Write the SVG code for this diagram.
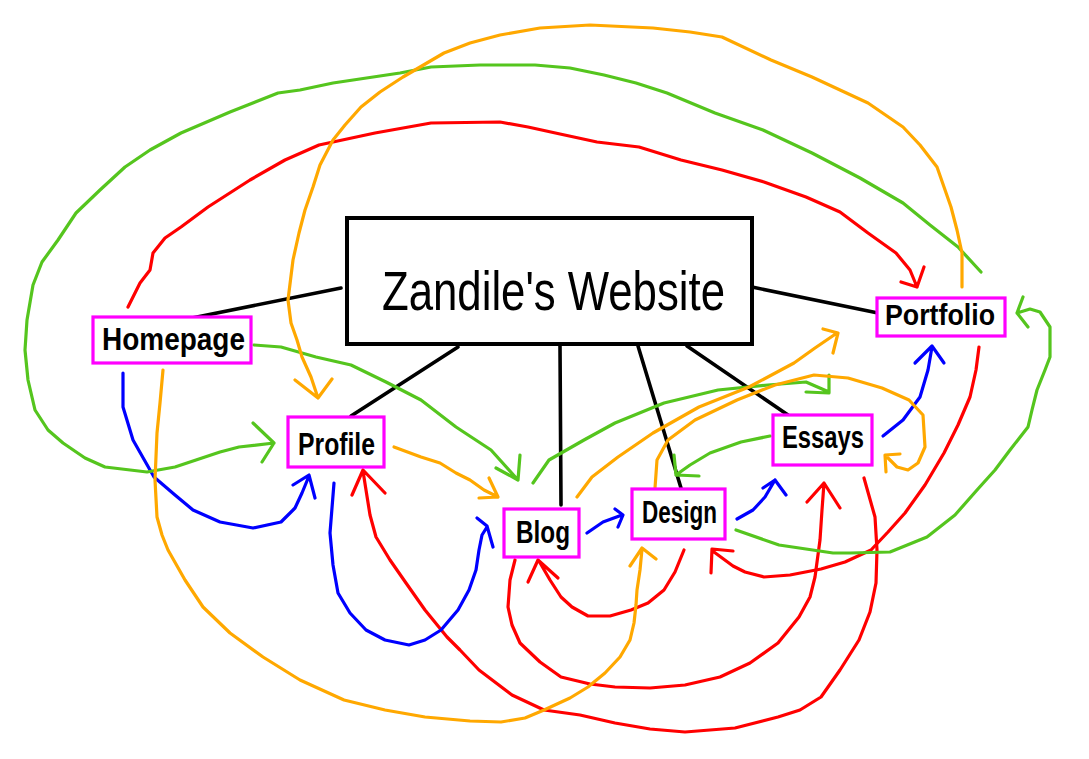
<svg xmlns="http://www.w3.org/2000/svg" width="1089" height="759" viewBox="0 0 1089 759">
<style>
.c{fill:none;stroke-width:3.2;stroke-linecap:round;stroke-linejoin:round}
.r{stroke:#FF0000}.b{stroke:#0000FF}.g{stroke:#55C51E}.o{stroke:#FFA800}
.k{fill:none;stroke:#000;stroke-width:3.6;stroke-linecap:round}
.n{fill:#fff;stroke:#FF00FF;stroke-width:3.2}
.t{font-family:"Liberation Sans",Arial,sans-serif;font-weight:bold;fill:#000;text-anchor:start}
.title{font-family:"Liberation Sans",Arial,sans-serif;fill:#000}
</style>
<rect width="1089" height="759" fill="#fff"/>
<g id="connectors">
<g id="links">
<path class="k" d="M192,318 L341,288"/>
<path class="k" d="M351,416 L458,347"/>
<path class="k" d="M560,346 L561,505"/>
<path class="k" d="M638,346 L681,488"/>
<path class="k" d="M687,346 L788,415"/>
<path class="k" d="M752,287 L878,313"/>
</g>
<path class="c r" d="M128,307 L140,283 L150,270 L153,253 L165,238 L181,227 L208,207 L250,180 L285,160 L319,145 L375,133 L431,123 L500,122 L528,127 L560,134 L597,142 L639,147 L681,160 L722,170 L764,182 L806,197 L840,212 L868,233 L896,253 L910,270 L917,287 M901,282 L917,287 L924,267"/>
<path class="c r" d="M979,347 L976,370 L970,397 L958,425 L944,453 L925,485 L905,513 L888,532 L871,550 L845,562 L821,569 L790,575 L764,577 L745,572 L733,566 L714,552 M733,551 L712,549 L711,573"/>
<path class="c r" d="M684,550 L675,572 L664,590 L648,603 L631,610 L610,616 L588,616 L572,607 L561,597 L550,580 L539,561 M528,582 L538,560 L558,578"/>
<path class="c r" d="M515,560 L510,580 L508,607 L512,625 L520,643 L540,662 L561,677 L590,684 L615,687 L650,688 L685,685 L720,677 L750,663 L778,643 L799,617 L810,597 L815,577 L820,540 L822,510 L824,483 M807,502 L824,483 L840,508"/>
<path class="c r" d="M864,478 L875,517 L877,550 L876,583 L870,612 L859,640 L840,670 L821,697 L800,710 L778,717 L735,728 L685,732 L650,729 L615,723 L580,715 L544,710 L512,695 L479,670 L460,650 L447,637 L425,610 L406,583 L390,560 L376,537 L370,515 L366,490 L363,471 M352,495 L363,470 L385,493"/>
<path class="c b" d="M123,373 L123,407 L133,440 L154,477 L175,495 L193,510 L220,522 L253,528 L281,522 L295,508 L302,493 L309,476 M293,485 L309,475 L315,498"/>
<path class="c b" d="M334,483 L330,533 L333,565 L338,593 L350,613 L366,630 L385,640 L409,645 L425,640 L441,630 L458,610 L469,590 L476,570 L479,550 L482,535 L487,527 M477,518 L487,526 L493,547"/>
<path class="c b" d="M587,533 L603,522 L622,515 M615,509 L623,515 L618,527"/>
<path class="c b" d="M737,519 L753,510 L765,497 L775,480 M763,488 L775,480 L786,495"/>
<path class="c b" d="M883,436 L903,420 L920,397 L928,370 L932,347 M915,363 L932,346 L944,363"/>
<path class="c g" d="M981,272 L958,247 L930,225 L903,203 L860,178 L812,153 L763,130 L715,113 L667,93 L636,83 L604,75 L570,68 L535,65 L480,65 L431,67 L400,73 L333,83 L300,90 L278,93 L230,112 L181,133 L150,150 L125,167 L100,190 L76,213 L58,240 L42,262 L33,285 L27,320 L25,350 L28,380 L35,410 L48,430 L63,443 L85,458 L105,467 L147,472 L175,467 L196,460 L220,452 L239,447 L274,443 M253,423 L274,443 L262,462"/>
<path class="c g" d="M254,345 L281,347 L316,357 L351,365 L386,382 L421,400 L456,427 L491,450 L518,480 M496,468 L518,480 L520,455"/>
<path class="c g" d="M533,483 L549,460 L584,440 L615,423 L664,403 L718,390 L768,385 L806,382 L829,392 M806,392 L829,393 L829,375"/>
<path class="c g" d="M770,436 L741,442 L710,453 L690,465 L676,475 M674,455 L676,475 L699,476"/>
<path class="c g" d="M736,530 L779,545 L833,553 L850,553 L890,552 L927,537 L955,515 L977,490 L995,470 L1010,450 L1028,427 L1032,410 L1037,390 L1045,370 L1050,357 L1050,327 L1040,312 L1030,309 L1017,313 M1023,297 L1017,313 L1028,327"/>
<path class="c o" d="M962,287 L962,253 L957,230 L951,207 L937,167 L920,145 L903,127 L868,103 L840,90 L812,77 L771,60 L722,37 L690,32 L653,28 L590,25 L540,28 L500,35 L470,43 L444,53 L403,77 L380,92 L361,107 L345,125 L333,140 L320,165 L313,187 L305,210 L299,233 L293,260 L288,300 L291,323 L297,340 L302,357 L311,377 L318,398 M295,380 L318,398 L332,379"/>
<path class="c o" d="M163,370 L160,403 L157,433 L155,480 L157,517 L162,535 L168,550 L185,580 L203,607 L230,633 L263,657 L300,680 L344,700 L385,710 L425,717 L470,721 L501,722 L525,718 L544,710 L570,698 L588,687 L605,673 L620,657 L630,640 L634,623 L636,605 L637,590 L640,570 L642,549 M630,566 L642,548 L656,559"/>
<path class="c o" d="M394,447 L421,457 L440,463 L456,473 L470,480 L484,490 L498,497 M489,478 L498,497 L479,498"/>
<path class="c o" d="M577,497 L592,477 L618,457 L653,433 L699,407 L749,387 L794,363 L815,348 L837,333 M823,329 L838,333 L833,353"/>
<path class="c o" d="M655,488 L657,460 L668,440 L695,420 L737,400 L775,385 L814,375 L848,378 L882,388 L909,400 L923,415 L925,447 L918,463 L908,470 L897,467 L886,456 M886,472 L885,455 L900,454"/>
</g>
<g id="main">
<rect x="347" y="218" width="405" height="126" fill="#fff" stroke="#000" stroke-width="4"/>
<text class="title" x="382" y="310" font-size="56" textLength="343" lengthAdjust="spacingAndGlyphs">Zandile's Website</text>
</g>
<g id="homepage">
<rect class="n" x="93" y="317" width="158" height="46"/>
<text class="t" x="102" y="350" font-size="31" textLength="143" lengthAdjust="spacingAndGlyphs">Homepage</text>
</g>
<g id="profile">
<rect class="n" x="288" y="417" width="96" height="50"/>
<text class="t" x="298" y="455" font-size="31" textLength="77" lengthAdjust="spacingAndGlyphs">Profile</text>
</g>
<g id="blog">
<rect class="n" x="504" y="509" width="75" height="48"/>
<text class="t" x="516" y="543" font-size="31" textLength="54" lengthAdjust="spacingAndGlyphs">Blog</text>
</g>
<g id="design">
<rect class="n" x="632" y="489" width="93" height="50"/>
<text class="t" x="642" y="523" font-size="31" textLength="75" lengthAdjust="spacingAndGlyphs">Design</text>
</g>
<g id="essays">
<rect class="n" x="773" y="415" width="99" height="50"/>
<text class="t" x="782" y="448" font-size="31" textLength="82" lengthAdjust="spacingAndGlyphs">Essays</text>
</g>
<g id="portfolio">
<rect class="n" x="877" y="298" width="128" height="38"/>
<text class="t" x="885" y="325" font-size="29" textLength="110" lengthAdjust="spacingAndGlyphs">Portfolio</text>
</g>
</svg>
